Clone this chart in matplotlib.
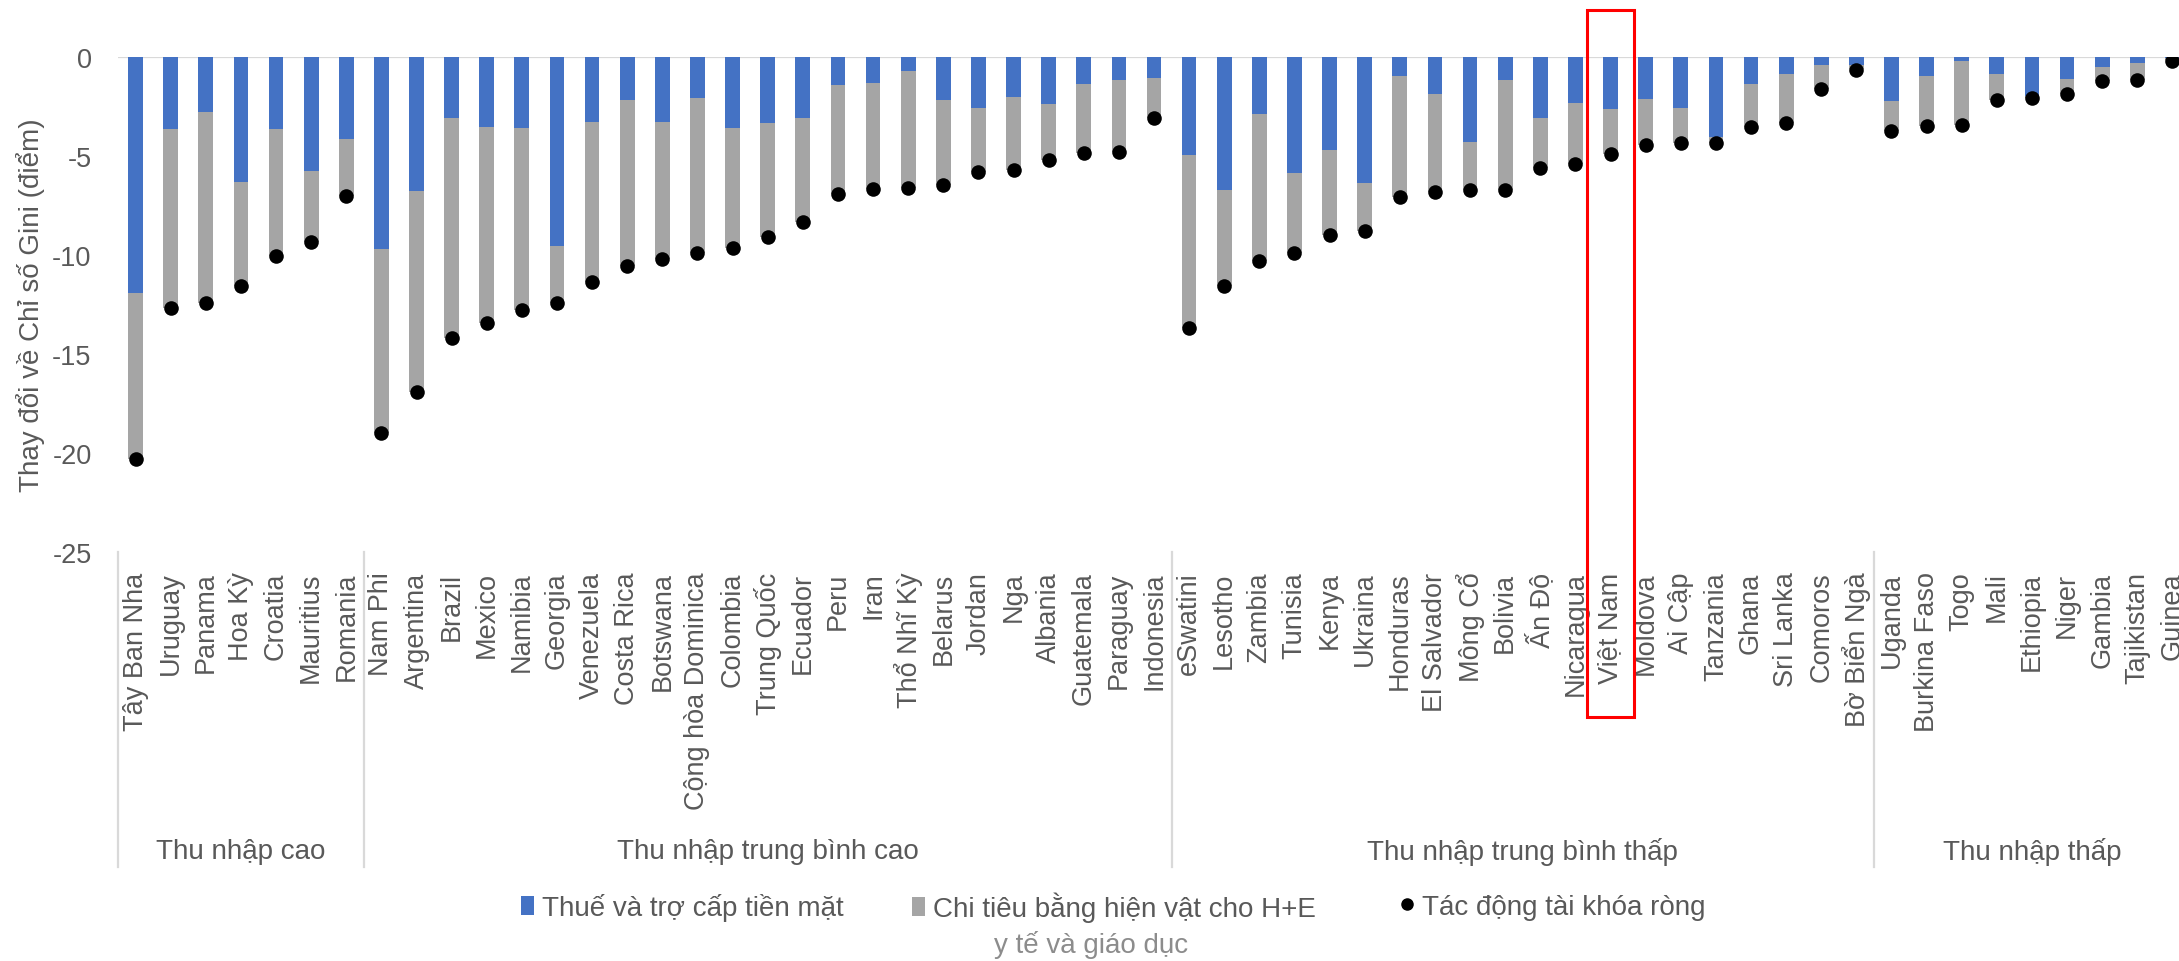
import matplotlib
matplotlib.use("Agg")
import matplotlib.pyplot as plt
from matplotlib.patches import Patch, Rectangle
from matplotlib.lines import Line2D
import matplotlib.transforms as mtransforms

plt.rcParams['font.family'] = ['Liberation Sans', 'DejaVu Sans']

# ---------------- data ----------------
countries_high = ["Tây Ban Nha", "Uruguay", "Panama", "Hoa Kỳ", "Croatia", "Mauritius", "Romania"]
countries_umid = ["Nam Phi", "Argentina", "Brazil", "Mexico", "Namibia", "Georgia", "Venezuela",
                  "Costa Rica", "Botswana", "Cộng hòa Dominica", "Colombia", "Trung Quốc", "Ecuador",
                  "Peru", "Iran", "Thổ Nhĩ Kỳ", "Belarus", "Jordan", "Nga", "Albania", "Guatemala",
                  "Paraguay", "Indonesia"]
countries_lmid = ["eSwatini", "Lesotho", "Zambia", "Tunisia", "Kenya", "Ukraina", "Honduras",
                  "El Salvador", "Mông Cổ", "Bolivia", "Ấn Độ", "Nicaragua", "Việt Nam", "Moldova",
                  "Ai Cập", "Tanzania", "Ghana", "Sri Lanka", "Comoros", "Bờ Biển Ngà"]
countries_low = ["Uganda", "Burkina Faso", "Togo", "Mali", "Ethiopia", "Niger", "Gambia",
                 "Tajikistan", "Guinea"]

group_names = ["Thu nhập cao", "Thu nhập trung bình cao", "Thu nhập trung bình thấp", "Thu nhập thấp"]

# Taxes and cash transfers
tax_cash = [-11.9, -3.65, -2.77, -6.3, -3.65, -5.78, -4.14,
            -9.68, -6.79, -3.09, -3.55, -3.6, -9.56, -3.29, -2.17, -3.27, -2.07, -3.57, -3.33, -3.07,
            -1.39, -1.29, -0.70, -2.17, -2.57, -2.03, -2.37, -1.35, -1.16, -1.06,
            -4.94, -6.71, -2.89, -5.84, -4.72, -6.37, -0.96, -1.85, -4.28, -1.16, -3.07, -2.31, -2.63,
            -2.13, -2.57, -4.02, -1.34, -0.88, -0.42, -0.42,
            -2.21, -0.96, -0.22, -0.88, -1.95, -1.10, -0.48, -0.30, -0.05]

# In-kind spending on health and education
in_kind = [-8.4, -9.05, -9.63, -5.27, -6.39, -3.58, -2.89,
           -9.32, -10.11, -11.11, -9.9, -9.2, -2.84, -8.08, -8.39, -6.93, -7.85, -6.09, -5.75, -5.28,
           -5.52, -5.38, -5.93, -4.3, -3.25, -3.69, -2.83, -3.51, -3.64, -2.04,
           -8.73, -4.84, -7.41, -4.08, -4.28, -2.41, -6.11, -4.96, -2.45, -5.55, -2.53, -3.07, -2.25,
           -2.31, -1.79, -0.3, -2.19, -2.47, -1.19, -0.2,
           -1.52, -2.53, -3.23, -1.31, -0.1, -0.77, -0.74, -0.86, -0.1]

# Net fiscal impact
net_impact = [-20.3, -12.7, -12.4, -11.57, -10.04, -9.36, -7.03,
              -19.0, -16.9, -14.2, -13.45, -12.8, -12.4, -11.37, -10.56, -10.2, -9.92, -9.66, -9.08, -8.35,
              -6.91, -6.67, -6.63, -6.47, -5.82, -5.72, -5.2, -4.86, -4.8, -3.1,
              -13.67, -11.55, -10.3, -9.92, -9.0, -8.78, -7.07, -6.81, -6.73, -6.71, -5.6, -5.38, -4.88,
              -4.44, -4.36, -4.33, -3.53, -3.35, -1.61, -0.68,
              -3.73, -3.49, -3.45, -2.19, -2.07, -1.87, -1.22, -1.16, -0.18]

y_ticks = [0, -5, -10, -15, -20, -25]
highlight = "Việt Nam"

legend_labels = ["Thuế và trợ cấp tiền mặt", "Chi tiêu bằng hiện vật cho H+E", "Tác động tài khóa ròng"]
legend_extra = "y tế và giáo dục"
y_label = "Thay đổi về Chỉ số Gini (điểm)"

# ---------------- styling ----------------
BLUE = "#4472C4"
GRAY = "#A5A5A5"
TXT = "#595959"
LINE = "#D9D9D9"

groups = [countries_high, countries_umid, countries_lmid, countries_low]
countries = [c for g in groups for c in g]
x = list(range(len(countries)))

W, H = 2179, 962
fig = plt.figure(figsize=(W / 100, H / 100), dpi=100)
ax_left, ax_right = 118, 2190
ax_top, ax_bot = 58, 553
ax = fig.add_axes([ax_left / W, 1 - ax_bot / H, (ax_right - ax_left) / W, (ax_bot - ax_top) / H])

bw = 0.42
ax.bar(x, tax_cash, width=bw, color=BLUE, zorder=2)
ax.bar(x, in_kind, width=bw, bottom=tax_cash, color=GRAY, zorder=2)
ax.scatter(x, net_impact, s=110, color="black", zorder=3, linewidths=0)

ax.set_xlim(-0.5, len(countries) - 0.5)
ax.set_ylim(-25, 0)
ax.axhline(0, color=LINE, lw=1.6, zorder=1)

for s in ax.spines.values():
    s.set_visible(False)

ax.set_yticks(y_ticks)
ax.set_yticklabels([str(v) for v in y_ticks])
ax.tick_params(axis='y', length=0, pad=19, labelsize=19.5, labelcolor=TXT)
ax.set_xticks(x)
ax.set_xticklabels(countries, rotation=90)
ax.tick_params(axis='x', length=0, pad=14, labelsize=19.5, labelcolor=TXT)
ax.set_ylabel(y_label, fontsize=20, color=TXT, labelpad=5)

# group separators and labels
trans = mtransforms.blended_transform_factory(ax.transData, ax.transAxes)
sep_bottom = (ax_bot - 868) / (ax_bot - ax_top)
lab_y = (ax_bot - 852) / (ax_bot - ax_top)
start = 0
seps = [-0.5]
for g, name in zip(groups, group_names):
    end = start + len(g)
    seps.append(end - 0.5)
    ax.text((start + end - 1) / 2, lab_y, name, transform=trans, ha="center", va="center",
            fontsize=20, color=TXT)
    start = end
for sx in seps[:-1]:
    ax.add_line(Line2D([sx, sx], [0, sep_bottom], transform=trans, color=LINE, lw=1.6, clip_on=False))

# highlight box
hi = countries.index(highlight)
box_top = (ax_bot - 11) / (ax_bot - ax_top)
box_bot = (ax_bot - 718) / (ax_bot - ax_top)
ax.add_patch(Rectangle((hi - 0.66, box_bot), 1.32, box_top - box_bot, transform=trans,
                       fill=False, edgecolor="#FF0000", lw=2.2, clip_on=False, zorder=5))

# legend (one entry per legend so each can sit where the reference puts it)
handles = [Patch(facecolor=BLUE, edgecolor="none"),
           Patch(facecolor=GRAY, edgecolor="none"),
           Line2D([], [], marker="o", color="black", linestyle="none", markersize=8)]
legend_x = [521, 912, 1401]
for h, lab, lx in zip(handles, legend_labels, legend_x):
    lg = fig.legend([h], [lab], loc="center left", bbox_to_anchor=(lx / W, 1 - 908 / H),
                    frameon=False, fontsize=20, labelcolor=TXT, handlelength=0.45, handleheight=0.7,
                    handletextpad=0.3, borderpad=0, borderaxespad=0)
fig.text(1091 / W, 1 - 945 / H, legend_extra, ha="center", va="center", fontsize=20, color="#8C8C8C")

fig.savefig("out.png", dpi=100)
